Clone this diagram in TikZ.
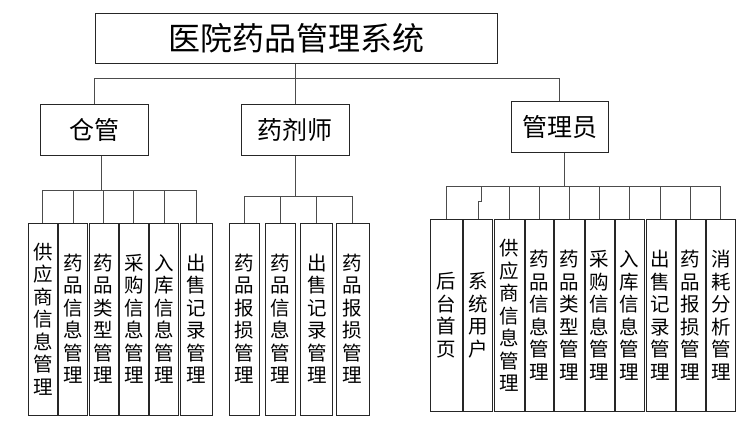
\documentclass[tikz,border=0pt]{standalone}
\usepackage{fontspec}
\setmainfont{Noto Sans CJK SC}
\tikzset{
 box/.style={draw=black!85, line width=1pt, fill=white, inner sep=0pt, align=center},
 role/.style={box, minimum width=108pt, minimum height=51pt, font=\fontsize{25}{25}\selectfont},
 leaf/.style={box, minimum height=192pt, font=\fontsize{19.5}{22.5}\selectfont},
 link/.style={draw=black!70, line width=0.9pt},
}
\begin{document}
\begin{tikzpicture}[x=1pt,y=-1pt]
\useasboundingbox (0,0) rectangle (756,434);
% title and roles
\node[box, minimum width=402pt, minimum height=50pt, font=\fontsize{32}{32}\selectfont] (sys) at (296,38) {医院药品管理系统};
\node[role] (cang) at (94,129.5) {仓管};
\node[role] (yao) at (295,129.5) {药剂师};
\node[role, minimum width=97pt] (guan) at (559.5,126.5) {管理员};
% warehouse children
\node[leaf, minimum width=29pt] (a1) at (42.8,319) {供\\应\\商\\信\\息\\管\\理};
\node[leaf, minimum width=29pt] (a2) at (73.2,319) {药\\品\\信\\息\\管\\理};
\node[leaf, minimum width=29pt] (a3) at (103.5,319) {药\\品\\类\\型\\管\\理};
\node[leaf, minimum width=29pt] (a4) at (133.8,319) {采\\购\\信\\息\\管\\理};
\node[leaf, minimum width=29pt] (a5) at (164.2,319) {入\\库\\信\\息\\管\\理};
\node[leaf, minimum width=32pt] (a6) at (196.2,319) {出\\售\\记\\录\\管\\理};
% pharmacist children
\node[leaf, minimum width=29.6pt] (b1) at (244.5,319) {药\\品\\报\\损\\管\\理};
\node[leaf, minimum width=29.7pt] (b2) at (280.2,319) {药\\品\\信\\息\\管\\理};
\node[leaf, minimum width=32.3pt] (b3) at (316.8,319) {出\\售\\记\\录\\管\\理};
\node[leaf, minimum width=32.7pt] (b4) at (352.7,319) {药\\品\\报\\损\\管\\理};
% admin children
\node[leaf, minimum width=32.3pt] (m1) at (446.2,315.3) {后\\台\\首\\页};
\node[leaf, minimum width=29pt] (m2) at (478.2,315.3) {系\\统\\用\\户};
\node[leaf, minimum width=30.3pt] (m3) at (509.2,315.3) {供\\应\\商\\信\\息\\管\\理};
\node[leaf, minimum width=28.3pt] (m4) at (539.2,315.3) {药\\品\\信\\息\\管\\理};
\node[leaf, minimum width=30pt] (m5) at (569,315.3) {药\\品\\类\\型\\管\\理};
\node[leaf, minimum width=28.7pt] (m6) at (599.7,315.3) {采\\购\\信\\息\\管\\理};
\node[leaf, minimum width=29.3pt] (m7) at (629.7,315.3) {入\\库\\信\\息\\管\\理};
\node[leaf, minimum width=29pt] (m8) at (660.5,315.3) {出\\售\\记\\录\\管\\理};
\node[leaf, minimum width=29pt] (m9) at (690.5,315.3) {药\\品\\报\\损\\管\\理};
\node[leaf, minimum width=29pt] (m10) at (720.8,315.3) {消\\耗\\分\\析\\管\\理};
% top connectors
\coordinate (t0) at (295,78);
\draw[link] (t0 |- sys.south) -- (t0);
\draw[link] (cang.north) |- (t0);
\draw[link] (guan.north) |- (t0);
\draw[link] (yao.north) -- (yao.north |- t0);
% warehouse connectors
\coordinate (ta) at (101.7,190);
\draw[link] (ta |- cang.south) -- (ta);
\draw[link] (a1.north) |- (ta);
\draw[link] (a6.north) |- (ta);
\foreach \n in {a2,a3,a4,a5} \draw[link] (\n.north) -- (\n.north |- ta);
% pharmacist connectors
\coordinate (tb) at (295,196);
\draw[link] (yao.south) -- (yao.south |- tb);
\draw[link] (b1.north) |- (tb);
\draw[link] (b4.north) |- (tb);
\foreach \n in {b2,b3} \draw[link] (\n.north) -- (\n.north |- tb);
% admin connectors
\coordinate (tc) at (564,186);
\draw[link] (tc |- guan.south) -- (tc);
\draw[link] (m1.north) |- (tc);
\draw[link] (m10.north) |- (tc);
\coordinate (jg) at (481.3,201);
\draw[link] (m2.north) -- (m2.north |- jg) -- (jg) -- (jg |- tc);
\foreach \n in {m3,m4,m5,m6,m7,m8,m9} \draw[link] (\n.north) -- (\n.north |- tc);
\end{tikzpicture}
\end{document}
